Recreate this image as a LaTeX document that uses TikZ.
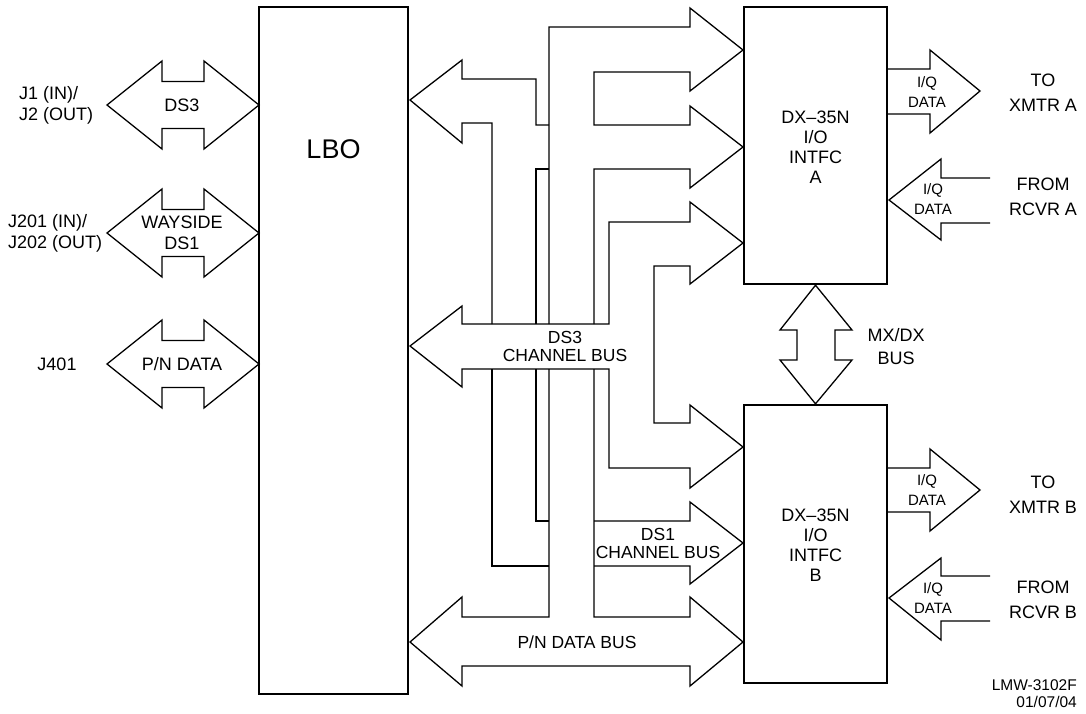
\documentclass[tikz,border=0pt]{standalone}
\usepackage{fontspec}
\setmainfont{Liberation Sans}
\begin{document}
\begin{tikzpicture}[x=1pt,y=-1pt,
    box/.style={draw,line width=2.4pt,inner sep=0pt},
    bus/.style={line width=1.3pt,line join=miter},
    lbl/.style={align=center,inner sep=0pt,font=\fontsize{18}{21}\selectfont},
    far/.style={align=center,inner sep=0pt,font=\fontsize{18}{25}\selectfont},
    small/.style={align=center,inner sep=0pt,font=\fontsize{15}{19.5}\selectfont}]
\useasboundingbox (0,0) rectangle (1086,713);

\draw node[box,minimum width=149pt,minimum height=687pt] (lbo) at (333.5,350.5) {};
\draw node[box,minimum width=143pt,minimum height=277pt] (intfcA) at (815.5,145.5) {};
\draw node[box,minimum width=143pt,minimum height=278pt] (intfcB) at (815.5,544) {};

\draw node[inner sep=0pt,font=\fontsize{27}{30}\selectfont] (lbotxt) at (333.5,149) {LBO};
\draw node[lbl,font=\fontsize{18}{20}\selectfont] (atxt) at (815.5,147) {DX--35N\\I/O\\INTFC\\A};
\draw node[lbl,font=\fontsize{18}{20}\selectfont] (btxt) at (815.5,545) {DX--35N\\I/O\\INTFC\\B};

% left side connectors
\draw[bus] (107,105) -- (162,61) -- (162,81.5) -- (204,81.5) -- (204,61) -- (259,105)
  -- (204,149) -- (204,128.5) -- (162,128.5) -- (162,149) -- cycle;
\draw[bus] (107,233) -- (162,189) -- (162,209.5) -- (204,209.5) -- (204,189) -- (259,233)
  -- (204,277) -- (204,256.5) -- (162,256.5) -- (162,277) -- cycle;
\draw[bus] (107,364) -- (162,320) -- (162,340.5) -- (204,340.5) -- (204,320) -- (259,364)
  -- (204,408) -- (204,387.5) -- (162,387.5) -- (162,408) -- cycle;
\draw node[lbl] (ds3) at (182,105) {DS3};
\draw node[lbl] (wayside) at (182,233) {WAYSIDE\\DS1};
\draw node[lbl] (pndata) at (182,364) {P/N DATA};
\draw node[lbl,align=left,anchor=west] (j1) at (19,105) {J1 (IN)/\\J2 (OUT)};
\draw node[lbl,align=left,anchor=west] (j201) at (8,233) {J201 (IN)/\\J202 (OUT)};
\draw node[lbl] (j401) at (57,364) {J401};

% buses between LBO and interfaces
\draw[bus] (549,324) -- (549,27) -- (690,27) -- (690,8) -- (743,50) -- (690,91) -- (690,72)
  -- (594,72) -- (594,125) -- (690,125) -- (690,106) -- (743,147) -- (690,188) -- (690,169)
  -- (594,169) -- (594,324);
\draw[bus] (549,369) -- (549,617) -- (462,617) -- (462,597) -- (410,642) -- (462,686)
  -- (462,666) -- (690,666) -- (690,686) -- (743,642) -- (690,597) -- (690,617)
  -- (594,617) -- (594,369);
\draw[bus] (594,521) -- (690,521) -- (690,502) -- (743,543) -- (690,584) -- (690,566) -- (594,566);
\draw[bus] (549,125) -- (536,125) -- (536,79) -- (462,79) -- (462,60) -- (410,100) -- (462,143)
  -- (462,123) -- (492,123) -- (492,324);
\draw[bus] (492,369) -- (492,566) -- (549,566);
\draw[bus] (549,169) -- (536,169) -- (536,324);
\draw[bus] (536,369) -- (536,521) -- (549,521);
\draw[bus] (609,324) -- (462,324) -- (462,306) -- (410,346) -- (462,387) -- (462,369)
  -- (609,369) -- (609,468) -- (690,468) -- (690,488) -- (743,447) -- (690,405) -- (690,423)
  -- (654,423) -- (654,266) -- (690,266) -- (690,284) -- (743,243) -- (690,202) -- (690,222)
  -- (609,222) -- cycle;
\draw node[lbl,font=\fontsize{17.5}{18}\selectfont] (ds3bus) at (565,346) {DS3\\CHANNEL BUS};
\draw node[lbl,font=\fontsize{17.5}{18}\selectfont] (ds1bus) at (658,543) {DS1\\CHANNEL BUS};
\draw node[lbl,font=\fontsize{17.5}{18}\selectfont] (pnbus) at (577,642) {P/N DATA BUS};

% MX/DX bus
\draw[bus] (intfcA.south) -- (852,330) -- (835,330) -- (835,360) -- (852,360) -- (intfcB.north)
  -- (780,360) -- (797,360) -- (797,330) -- (780,330) -- cycle;
\draw node[lbl,font=\fontsize{18}{23}\selectfont] (mxdx) at (896,347) {MX/DX\\BUS};

% I/Q data
\draw[bus] (887,69) -- (930,69) -- (930,50) -- (980,91) -- (930,133) -- (930,114) -- (887,114);
\draw[bus] (990,178) -- (941,178) -- (941,159) -- (889,200) -- (941,240) -- (941,223) -- (990,223);
\draw[bus] (887,468) -- (930,468) -- (930,449) -- (980,490) -- (930,531) -- (930,512) -- (887,512);
\draw[bus] (990,576) -- (941,576) -- (941,558) -- (889,598) -- (941,640) -- (941,621) -- (990,621);
\draw node[small] (iqa1) at (927,92) {I/Q\\DATA};
\draw node[small] (iqa2) at (933,199) {I/Q\\DATA};
\draw node[small] (iqb1) at (927,490) {I/Q\\DATA};
\draw node[small] (iqb2) at (933,598) {I/Q\\DATA};
\draw node[far] (xmtra) at (1043,93) {TO\\XMTR A};
\draw node[far] (rcvra) at (1043,197) {FROM\\RCVR A};
\draw node[far] (xmtrb) at (1043,495) {TO\\XMTR B};
\draw node[far] (rcvrb) at (1043,600) {FROM\\RCVR B};

\draw node[lbl,align=right,anchor=east,font=\fontsize{15.5}{17}\selectfont] (dwg) at (1077,694) {LMW-3102F\\01/07/04};
\end{tikzpicture}
\end{document}
